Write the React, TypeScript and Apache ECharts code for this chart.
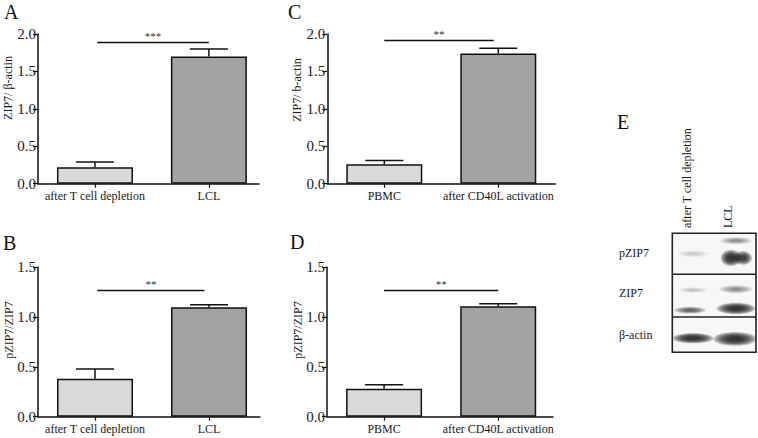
import React, { useEffect, useRef } from 'react';
import * as echarts from 'echarts';

// ---- data ----
const groupsAB = ['after T cell depletion', 'LCL'];
const groupsCD = ['PBMC', 'after CD40L activation'];
const meanA = [0.22, 1.70];
const errA = [0.07, 0.10];
const meanB = [0.38, 1.10];
const errB = [0.10, 0.025];
const meanC = [0.26, 1.74];
const errC = [0.05, 0.07];
const meanD = [0.28, 1.11];
const errD = [0.04, 0.025];
const sigLabels = ['***', '**', '**', '**'];
const sigLevels = [1.89, 1.265, 1.91, 1.265];
const yMaxes = [2.0, 1.5, 2.0, 1.5];
const yNames = ['ZIP7/ β-actin', 'pZIP7/ZIP7', 'ZIP7/ b-actin', 'pZIP7/ZIP7'];
const panelLetters = ['A', 'B', 'C', 'D', 'E'];
const blotLanes = ['after T cell depletion', 'LCL'];
const blotRows = ['pZIP7', 'ZIP7', 'β-actin'];
// band specs: [row, lane, relY within row, x offset, half width, half height, intensity]
const blotBands = [
  [0, 0, 0.5, 0, 14, 3, 0.1],
  [0, 1, 0.18, 0, 14, 3, 0.3],
  [0, 1, 0.6, -5, 9, 7, 0.95],
  [0, 1, 0.6, 7, 8, 6, 0.8],
  [1, 0, 0.37, 0, 13, 2.5, 0.12],
  [1, 1, 0.35, 0, 15, 3.5, 0.3],
  [1, 0, 0.84, -3, 14, 3, 0.5],
  [1, 1, 0.8, 0, 17, 5, 0.95],
  [2, 0, 0.6, 0, 18, 4.5, 0.95],
  [2, 1, 0.62, -1, 19, 6, 0.95],
];

const SERIF = 'Liberation Serif, serif';
const barColors = ['#d9d9d9', '#a3a3a3'];

const panels = [
  { groups: groupsAB, mean: meanA, err: errA, grid: { left: 38, top: 34, width: 221, height: 149.7 }, xMax: 1.44, sigX: [0.02, 1.0] },
  { groups: groupsAB, mean: meanB, err: errB, grid: { left: 38, top: 267.3, width: 222, height: 149.4 }, xMax: 1.447, sigX: [0.02, 0.96] },
  { groups: groupsCD, mean: meanC, err: errC, grid: { left: 327.3, top: 34, width: 228, height: 149.7 }, xMax: 1.5, sigX: [0.0, 0.96] },
  { groups: groupsCD, mean: meanD, err: errD, grid: { left: 327, top: 267.3, width: 226, height: 149.4 }, xMax: 1.48, sigX: [0.0, 1.0] },
];

function bandEls(cx: number, cy: number, rx: number, ry: number, a: number) {
  const els: any[] = [];
  const n = 9;
  for (let i = 0; i < n; i++) {
    const k = 1.15 - i * 0.1;
    els.push({
      type: 'ellipse',
      silent: true,
      shape: { cx, cy, rx: rx * k, ry: ry * k },
      style: { fill: `rgba(20,20,20,${(a * 0.2).toFixed(3)})` },
    });
  }
  return els;
}

export default function App() {
  const ref = useRef<HTMLDivElement>(null);
  useEffect(() => {
    if (!ref.current) return;
    const chart = echarts.init(ref.current, null, { renderer: 'svg' });

    const axisLine = { show: true, onZero: false, lineStyle: { color: '#111', width: 1.5 } };

    const grid = panels.map((p) => ({ ...p.grid, containLabel: false }));
    const xAxis = panels.map((p, i) => ({
      type: 'value',
      gridIndex: i,
      min: -0.5,
      max: p.xMax,
      axisLine,
      splitLine: { show: false },
      axisTick: { show: true, customValues: [0, 1], length: 4, lineStyle: { color: '#111', width: 1.2 } },
      axisLabel: {
        show: true,
        customValues: [0, 1],
        formatter: (v: number) => p.groups[Math.round(v)] ?? '',
        fontFamily: SERIF,
        fontSize: 12,
        color: '#1a1a1a',
        margin: 6,
      },
    }));
    const yAxis = panels.map((p, i) => ({
      type: 'value',
      gridIndex: i,
      min: 0,
      max: yMaxes[i],
      interval: 0.5,
      axisLine,
      splitLine: { show: false },
      axisTick: { show: true, length: 5, lineStyle: { color: '#111', width: 1.2 } },
      axisLabel: {
        formatter: (v: number) => v.toFixed(1),
        fontFamily: SERIF,
        fontSize: 15,
        color: '#1a1a1a',
        margin: 2,
      },
    }));

    const series: any[] = [];
    panels.forEach((p, i) => {
      series.push({
        type: 'bar',
        xAxisIndex: i,
        yAxisIndex: i,
        barWidth: 76,
        data: p.mean.map((v, j) => ({ value: [j, v], itemStyle: { color: barColors[j] } })),
        itemStyle: { borderColor: '#111', borderWidth: 1.5 },
        markLine: {
          silent: true,
          symbol: ['none', 'none'],
          lineStyle: { color: '#111', width: 1.3, type: 'solid' },
          label: {
            show: true,
            position: 'middle',
            formatter: sigLabels[i],
            fontFamily: SERIF,
            fontSize: 11,
            color: '#333',
            distance: 1,
          },
          data: [[{ coord: [p.sigX[0], sigLevels[i]] }, { coord: [p.sigX[1], sigLevels[i]] }]],
        },
      });
      series.push({
        type: 'custom',
        xAxisIndex: i,
        yAxisIndex: i,
        z: 5,
        encode: { x: 0, y: 1 },
        data: p.mean.map((m, j) => [j, m, p.err[j]]),
        renderItem: (params: any, api: any) => {
          const x = api.value(0);
          const m = api.value(1);
          const e = api.value(2);
          const p0 = api.coord([x, m]);
          const p1 = api.coord([x, m + e]);
          const st = { stroke: '#111', lineWidth: 1.5 };
          return {
            type: 'group',
            children: [
              { type: 'line', shape: { x1: p0[0], y1: p0[1], x2: p1[0], y2: p1[1] }, style: st },
              { type: 'line', shape: { x1: p1[0] - 19, y1: p1[1], x2: p1[0] + 19, y2: p1[1] }, style: st },
            ],
          };
        },
      });
    });

    const letterPos = [
      [4, 2], [3, 233], [288, 2], [290, 232], [617, 112],
    ];
    const yNamePos = [
      [8, 88], [9, 330], [296.5, 90], [297.5, 330],
    ];
    const graphic: any[] = [];
    panelLetters.forEach((l, i) => {
      graphic.push({
        type: 'text',
        x: letterPos[i][0],
        y: letterPos[i][1],
        silent: true,
        style: { text: l, fontFamily: SERIF, fontSize: 20, fill: '#111', align: 'left', verticalAlign: 'top' },
      });
    });
    yNames.forEach((n, i) => {
      graphic.push({
        type: 'text',
        x: yNamePos[i][0],
        y: yNamePos[i][1],
        rotation: Math.PI / 2,
        silent: true,
        style: { text: n, fontFamily: SERIF, fontSize: 12, fill: '#1a1a1a', align: 'center', verticalAlign: 'middle' },
      });
    });

    // western blot (panel E)
    const bx = 672.3, by = 233.3, bw = 83.7, bh = 119;
    const rowEdges = [233.3, 274.3, 317, 352.3];
    const laneCx = [693, 736];
    graphic.push({
      type: 'rect',
      silent: true,
      shape: { x: bx, y: by, width: bw, height: bh },
      style: { fill: '#f7f7f7', stroke: 'none' },
    });
    blotBands.forEach((b) => {
      const [row, lane, ry, off, hw, hh, a] = b as number[];
      const cy = rowEdges[row] + (rowEdges[row + 1] - rowEdges[row]) * ry;
      bandEls(laneCx[lane] + off, cy, hw, hh, a).forEach((e) => graphic.push(e));
    });
    graphic.push({
      type: 'rect',
      silent: true,
      shape: { x: bx, y: by, width: bw, height: bh },
      style: { fill: 'none', stroke: '#222', lineWidth: 1.6 },
    });
    [rowEdges[1], rowEdges[2]].forEach((y) => {
      graphic.push({
        type: 'line',
        silent: true,
        shape: { x1: bx, y1: y, x2: bx + bw, y2: y },
        style: { stroke: '#222', lineWidth: 1.6 },
      });
    });
    blotLanes.forEach((l, i) => {
      graphic.push({
        type: 'text',
        x: [687, 728][i],
        y: 228,
        rotation: Math.PI / 2,
        silent: true,
        style: { text: l, fontFamily: SERIF, fontSize: 12, fill: '#1a1a1a', align: 'left', verticalAlign: 'middle' },
      });
    });
    blotRows.forEach((r, i) => {
      graphic.push({
        type: 'text',
        x: 619,
        y: [253, 293, 335][i],
        silent: true,
        style: { text: r, fontFamily: SERIF, fontSize: 12, fill: '#1a1a1a', align: 'left', verticalAlign: 'middle' },
      });
    });

    chart.setOption({
      animation: false,
      backgroundColor: '#ffffff',
      grid,
      xAxis,
      yAxis,
      series,
      graphic,
    });
    return () => chart.dispose();
  }, []);

  return <div ref={ref} style={{ position: 'absolute', left: 0, top: 0, width: 758, height: 438 }} />;
}
